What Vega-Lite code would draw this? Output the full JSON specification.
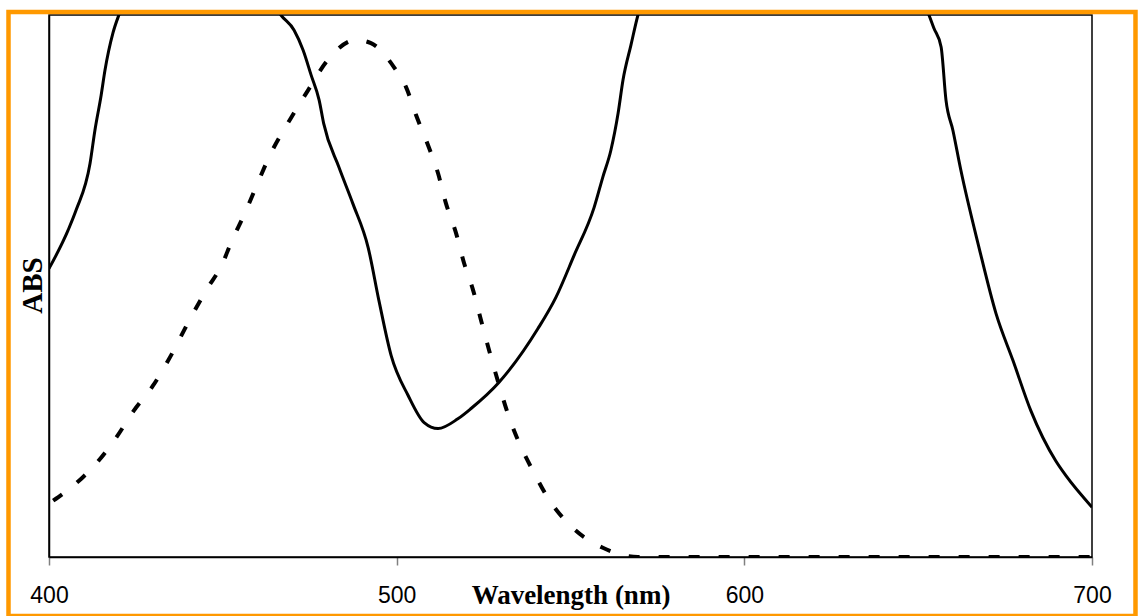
{
  "$schema": "https://vega.github.io/schema/vega-lite/v6.json",
  "autosize": {"type": "none"},
  "width": 1043,
  "height": 542,
  "padding": {"left": 49, "top": 15, "right": 47, "bottom": 59},
  "background": "white",
  "config": {
    "view": {"stroke": "#000000", "strokeWidth": 1.5},
    "axis": {"grid": false}
  },
  "datasets": {
    "solid": [
      {"nm": 400.0, "abs": 0.532},
      {"nm": 405.5, "abs": 0.603},
      {"nm": 407.8, "abs": 0.640},
      {"nm": 411.8, "abs": 0.726},
      {"nm": 413.2, "abs": 0.787},
      {"nm": 415.0, "abs": 0.852},
      {"nm": 416.1, "abs": 0.898},
      {"nm": 418.4, "abs": 0.967},
      {"nm": 420.1, "abs": 1.0},
      {"nm": 425.0, "abs": 1.06},
      {"nm": 445.0, "abs": 1.1},
      {"nm": 462.0, "abs": 1.05},
      {"nm": 466.7, "abs": 1.0},
      {"nm": 470.5, "abs": 0.972},
      {"nm": 473.1, "abs": 0.935},
      {"nm": 475.4, "abs": 0.889},
      {"nm": 477.7, "abs": 0.843},
      {"nm": 479.0, "abs": 0.800},
      {"nm": 483.4, "abs": 0.719},
      {"nm": 487.4, "abs": 0.652},
      {"nm": 491.8, "abs": 0.571},
      {"nm": 494.9, "abs": 0.473},
      {"nm": 498.4, "abs": 0.372},
      {"nm": 503.3, "abs": 0.298},
      {"nm": 507.9, "abs": 0.248},
      {"nm": 511.9, "abs": 0.237},
      {"nm": 517.6, "abs": 0.255},
      {"nm": 521.4, "abs": 0.274},
      {"nm": 529.4, "abs": 0.322},
      {"nm": 540.6, "abs": 0.421},
      {"nm": 545.8, "abs": 0.479},
      {"nm": 551.0, "abs": 0.556},
      {"nm": 556.8, "abs": 0.645},
      {"nm": 559.3, "abs": 0.701},
      {"nm": 561.6, "abs": 0.750},
      {"nm": 563.7, "abs": 0.819},
      {"nm": 565.1, "abs": 0.880},
      {"nm": 567.4, "abs": 0.945},
      {"nm": 569.4, "abs": 1.0},
      {"nm": 575.0, "abs": 1.08},
      {"nm": 610.0, "abs": 1.15},
      {"nm": 648.0, "abs": 1.07},
      {"nm": 653.1, "abs": 1.0},
      {"nm": 654.5, "abs": 0.976},
      {"nm": 656.6, "abs": 0.941},
      {"nm": 658.0, "abs": 0.843},
      {"nm": 660.0, "abs": 0.787},
      {"nm": 662.3, "abs": 0.713},
      {"nm": 667.5, "abs": 0.571},
      {"nm": 672.4, "abs": 0.449},
      {"nm": 677.3, "abs": 0.362},
      {"nm": 682.4, "abs": 0.270},
      {"nm": 689.6, "abs": 0.177},
      {"nm": 692.5, "abs": 0.150},
      {"nm": 700.0, "abs": 0.092}
    ],
    "dashed": [
      {"nm": 401.2, "abs": 0.104},
      {"nm": 409.2, "abs": 0.144},
      {"nm": 413.5, "abs": 0.172},
      {"nm": 419.3, "abs": 0.220},
      {"nm": 424.4, "abs": 0.270},
      {"nm": 429.9, "abs": 0.316},
      {"nm": 435.1, "abs": 0.372},
      {"nm": 440.3, "abs": 0.436},
      {"nm": 445.2, "abs": 0.492},
      {"nm": 450.0, "abs": 0.543},
      {"nm": 452.3, "abs": 0.579},
      {"nm": 455.8, "abs": 0.627},
      {"nm": 464.7, "abs": 0.756},
      {"nm": 469.6, "abs": 0.810},
      {"nm": 474.5, "abs": 0.861},
      {"nm": 480.2, "abs": 0.917},
      {"nm": 488.3, "abs": 0.954},
      {"nm": 492.6, "abs": 0.948},
      {"nm": 499.2, "abs": 0.904},
      {"nm": 502.7, "abs": 0.867},
      {"nm": 505.6, "abs": 0.815},
      {"nm": 509.0, "abs": 0.760},
      {"nm": 511.9, "abs": 0.708},
      {"nm": 514.2, "abs": 0.652},
      {"nm": 517.1, "abs": 0.597},
      {"nm": 519.4, "abs": 0.542},
      {"nm": 522.0, "abs": 0.492},
      {"nm": 524.3, "abs": 0.436},
      {"nm": 526.6, "abs": 0.381},
      {"nm": 529.1, "abs": 0.325},
      {"nm": 532.0, "abs": 0.264},
      {"nm": 535.2, "abs": 0.211},
      {"nm": 539.2, "abs": 0.159},
      {"nm": 543.5, "abs": 0.109},
      {"nm": 550.1, "abs": 0.057},
      {"nm": 559.3, "abs": 0.017},
      {"nm": 569.4, "abs": 0.0},
      {"nm": 600.0, "abs": 0.0},
      {"nm": 650.0, "abs": 0.0},
      {"nm": 700.0, "abs": 0.0}
    ]
  },
  "layer": [
    {
      "data": {"name": "solid"},
      "mark": {"type": "line", "color": "#000000", "strokeWidth": 3, "interpolate": "monotone", "clip": true},
      "encoding": {
        "x": {
          "field": "nm", "type": "quantitative",
          "scale": {"domain": [400, 700], "nice": false, "zero": false},
          "axis": {
            "values": [400, 500, 600, 700],
            "title": "Wavelength (nm)",
            "titleFont": "Liberation Serif",
            "titleFontWeight": "bold",
            "titleFontSize": 27,
            "titleColor": "#000000",
            "titleBaseline": "alphabetic",
            "titleY": 46,
            "labelFont": "Liberation Sans",
            "labelFontSize": 23,
            "labelColor": "#000000",
            "labelPadding": 19,
            "labelFlush": false,
            "labelOverlap": false,
            "tickColor": "#808080",
            "tickSize": 8,
            "tickWidth": 1.5,
            "domainColor": "#000000",
            "domainWidth": 1.5
          }
        },
        "y": {
          "field": "abs", "type": "quantitative",
          "scale": {"domain": [0, 1], "nice": false, "zero": false},
          "axis": {
            "title": "ABS",
            "titleFont": "Liberation Serif",
            "titleFontWeight": "bold",
            "titleFontSize": 29,
            "titleColor": "#000000",
            "titleAngle": 270,
            "titleAlign": "center",
            "titleBaseline": "alphabetic",
            "titleX": -8,
            "titleY": 270,
            "labels": false,
            "ticks": false,
            "domainColor": "#000000",
            "domainWidth": 1.5
          }
        }
      }
    },
    {
      "data": {"name": "dashed"},
      "mark": {"type": "line", "color": "#000000", "strokeWidth": 4, "strokeDash": [11, 19], "interpolate": "monotone", "clip": true},
      "encoding": {
        "x": {"field": "nm", "type": "quantitative"},
        "y": {"field": "abs", "type": "quantitative"}
      }
    },
    {
      "data": {"values": [{}]},
      "mark": {"type": "rect", "fill": null, "fillOpacity": 0, "stroke": "#ff9900", "strokeWidth": 4.5, "clip": false},
      "encoding": {
        "x": {"datum": 388.35, "type": "quantitative"},
        "x2": {"datum": 712.51},
        "y": {"datum": 1.0055, "type": "quantitative"},
        "y2": {"datum": -0.1089}
      }
    }
  ]
}
